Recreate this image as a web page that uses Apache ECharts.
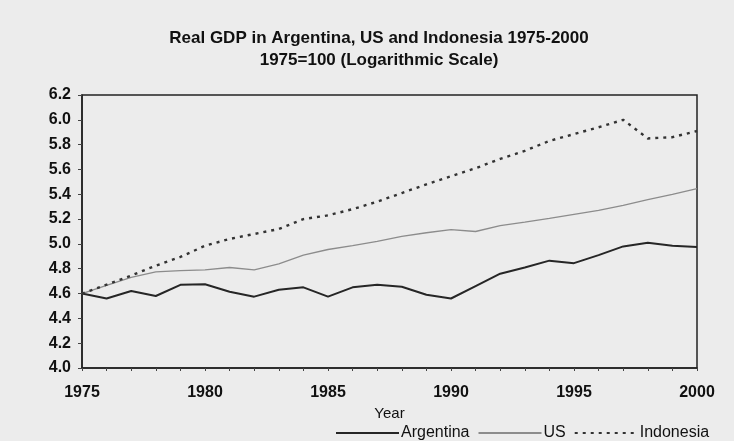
<!DOCTYPE html>
<html>
<head>
<meta charset="utf-8">
<script src="https://cdn.jsdelivr.net/npm/echarts@6/dist/echarts.min.js"></script>
<style>
html,body{margin:0;padding:0;background:#ececec;}
#c{width:734px;height:441px;}
</style>
</head>
<body>
<div id="c"></div>
<script>
const years = ['1975','1976','1977','1978','1979','1980','1981','1982','1983','1984','1985','1986','1987','1988','1989','1990','1991','1992','1993','1994','1995','1996','1997','1998','1999','2000'];
const argentina = [4.60,4.56,4.62,4.58,4.67,4.675,4.615,4.575,4.63,4.65,4.575,4.65,4.67,4.655,4.59,4.56,4.66,4.76,4.81,4.865,4.845,4.91,4.98,5.01,4.985,4.975];
const us = [4.60,4.665,4.73,4.775,4.785,4.79,4.81,4.79,4.84,4.91,4.955,4.987,5.02,5.06,5.09,5.115,5.10,5.148,5.175,5.205,5.238,5.27,5.31,5.356,5.40,5.445];
const indonesia = [4.60,4.671,4.745,4.825,4.895,4.985,5.04,5.08,5.12,5.20,5.23,5.28,5.34,5.41,5.48,5.545,5.61,5.685,5.75,5.83,5.885,5.94,6.00,5.85,5.86,5.91];
const yTicks = {min:4.0, max:6.2, step:0.2};
const seriesNames = ['Argentina','US','Indonesia'];

const chart = echarts.init(document.getElementById('c'));
const font = '"Liberation Sans", Arial, sans-serif';
chart.setOption({
  backgroundColor:'#ececec',
  animation:false,
  title:{
    text:'Real GDP in Argentina, US and Indonesia 1975-2000\n1975=100 (Logarithmic Scale)',
    left:379, top:27, textAlign:'center', padding:0,
    textStyle:{fontFamily:font,fontSize:17,fontWeight:'bold',color:'#111',lineHeight:22}
  },
  grid:{left:82,right:37,top:95,bottom:73,show:true,borderColor:'#222',borderWidth:1.5,backgroundColor:'transparent'},
  legend:{
    top:425, left:335, padding:0, itemWidth:63, itemHeight:8, itemGap:8,
    itemStyle:{opacity:0},
    textStyle:{fontFamily:font,fontSize:16,color:'#111',padding:[0,0,0,-3]},
    data:seriesNames
  },
  xAxis:{
    type:'category', data:years, boundaryGap:false,
    name:'Year', nameLocation:'middle', nameGap:34,
    nameTextStyle:{fontFamily:font,fontSize:15,color:'#111'},
    axisLine:{lineStyle:{color:'#222',width:1.5}},
    axisTick:{interval:0,length:3,lineStyle:{color:'#444'}},
    axisLabel:{interval:4,fontFamily:font,fontSize:16,fontWeight:'bold',color:'#111',margin:17},
    splitLine:{show:false}
  },
  yAxis:{
    type:'value', min:yTicks.min, max:yTicks.max, interval:yTicks.step,
    axisLine:{show:true,lineStyle:{color:'#222',width:1.5}},
    axisTick:{show:true,length:4,lineStyle:{color:'#444'}},
    axisLabel:{fontFamily:font,fontSize:16,fontWeight:'bold',color:'#111',margin:11,formatter:v=>v.toFixed(1)},
    splitLine:{show:false}
  },
  series:[
    {name:'Argentina',type:'line',data:argentina,symbol:'none',lineStyle:{color:'#262626',width:2},itemStyle:{color:'#262626'}},
    {name:'US',type:'line',data:us,symbol:'none',lineStyle:{color:'#8c8c8c',width:1.3},itemStyle:{color:'#8c8c8c'}},
    {name:'Indonesia',type:'line',data:indonesia,symbol:'none',lineStyle:{color:'#333',width:2.4,type:[3,5]},itemStyle:{color:'#333'}}
  ]
});
</script>
</body>
</html>
